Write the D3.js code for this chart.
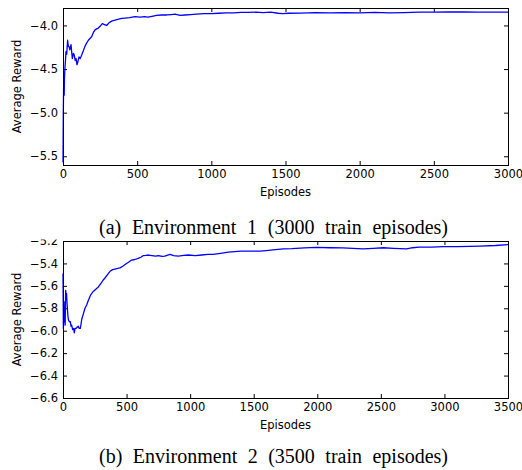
<!DOCTYPE html>
<html>
<head>
<meta charset="utf-8">
<script src="https://cdn.jsdelivr.net/npm/d3@7"></script>
<style>
  body { margin: 0; background: #fff; }
  .axisGraph text { font-family: "DejaVu Sans", sans-serif; font-size: 11.5px; fill: #000; }
  .axisGraph line { stroke: #000; }
  .labelGraph { font-family: "DejaVu Sans", sans-serif; font-size: 11.5px; fill: #000; }
  .caption { font-family: "Liberation Serif", "Times New Roman", serif; font-size: 20px; fill: #000; }
</style>
</head>
<body>
<script>

// Environment 1 : average reward per episode
var env1Episodes = [0, 1, 2, 4, 6, 8, 10, 13, 16, 20, 25, 31, 36, 40, 46, 54, 60, 63, 70, 76, 82, 88, 94, 100,
  108, 116, 126, 137, 148, 160, 171, 182, 193, 205, 216, 227, 238, 250, 265, 280, 294, 310, 328, 350, 370, 396,
  420, 450, 485, 520, 550, 573, 600, 630, 665, 700, 730, 755, 790, 822, 860, 900, 950, 1000, 1050, 1100, 1150,
  1200, 1250, 1300, 1350, 1400, 1450, 1480, 1520, 1600, 1700, 1800, 1900, 2000, 2100, 2200, 2300, 2400, 2500,
  2600, 2700, 2800, 2900, 3000];
var env1Reward = [-5.57, -5.3, -5.0, -4.72, -4.66, -4.8, -4.6, -4.49, -4.42, -4.30, -4.33, -4.17, -4.24, -4.24,
  -4.28, -4.22, -4.33, -4.38, -4.32, -4.34, -4.40, -4.38, -4.45, -4.42, -4.36, -4.38, -4.34, -4.29, -4.24, -4.20,
  -4.17, -4.15, -4.13, -4.08, -4.05, -4.04, -4.03, -4.01, -3.98, -3.99, -4.00, -3.97, -3.95, -3.94, -3.93, -3.92,
  -3.915, -3.91, -3.90, -3.905, -3.90, -3.905, -3.895, -3.885, -3.88, -3.88, -3.875, -3.87, -3.885, -3.88, -3.875,
  -3.87, -3.865, -3.865, -3.86, -3.855, -3.855, -3.85, -3.85, -3.848, -3.852, -3.848, -3.86, -3.865, -3.86, -3.858,
  -3.852, -3.856, -3.852, -3.855, -3.85, -3.856, -3.852, -3.848, -3.848, -3.846, -3.845, -3.848, -3.848, -3.848];

// Environment 2 : average reward per episode
var env2Episodes = [0, 3, 6, 8, 11, 13, 17, 21, 25, 28, 31, 34, 38, 42, 50, 58, 63, 68, 76, 84, 89, 95, 102, 110,
  120, 128, 136, 142, 147, 160, 173, 186, 199, 218, 238, 258, 278, 300, 315, 330, 350, 370, 390, 409, 430, 448,
  470, 488, 515, 540, 565, 592, 612, 632, 652, 671, 700, 730, 750, 780, 800, 842, 870, 907, 950, 986, 1040, 1090,
  1140, 1180, 1240, 1300, 1350, 1400, 1450, 1500, 1550, 1600, 1650, 1733, 1800, 1900, 1995, 2100, 2200, 2280,
  2360, 2440, 2520, 2600, 2703, 2750, 2800, 2900, 2990, 3100, 3200, 3280, 3400, 3500];
var env2Reward = [-5.49, -5.98, -5.80, -5.74, -5.92, -5.86, -5.95, -5.64, -5.70, -5.67, -5.74, -5.79, -5.86, -5.90,
  -5.92, -5.92, -5.96, -5.95, -5.99, -5.98, -6.02, -5.98, -5.98, -5.97, -5.96, -5.98, -5.98, -5.94, -5.90, -5.85,
  -5.80, -5.77, -5.73, -5.68, -5.65, -5.63, -5.61, -5.575, -5.55, -5.53, -5.50, -5.47, -5.455, -5.45, -5.445, -5.44,
  -5.425, -5.41, -5.39, -5.37, -5.365, -5.355, -5.345, -5.33, -5.328, -5.325, -5.33, -5.335, -5.33, -5.338, -5.335,
  -5.32, -5.33, -5.335, -5.328, -5.325, -5.33, -5.325, -5.32, -5.32, -5.31, -5.30, -5.295, -5.29, -5.29, -5.29,
  -5.29, -5.285, -5.28, -5.27, -5.268, -5.262, -5.256, -5.26, -5.262, -5.265, -5.27, -5.265, -5.26, -5.265, -5.27,
  -5.26, -5.255, -5.255, -5.25, -5.25, -5.248, -5.245, -5.24, -5.233];

var env1XTicks = [0, 500, 1000, 1500, 2000, 2500, 3000];
var env1YTicks = [-5.5, -5.0, -4.5, -4.0];
var env2XTicks = [0, 500, 1000, 1500, 2000, 2500, 3000, 3500];
var env2YTicks = [-6.6, -6.4, -6.2, -6.0, -5.8, -5.6, -5.4, -5.2];

var captions = ["(a) Environment 1 (3000 train episodes)", "(b) Environment 2 (3500 train episodes)"];

/************************************************************************************************************/

var root = d3.select("body").append("svg").attr("width", 522).attr("height", 470);

function minusFormat(d){
  return d3.format(".1f")(d).replace("-", "\u2212");
}

function drawPanel(conf){

  var svg = root.append("g").attr("transform", "translate(" + [conf.left, conf.top] + ")");
  var width = conf.width, height = conf.height;

  var x = d3.scaleLinear().domain(conf.xDomain).range([0, width]);
  var y = d3.scaleLinear().domain(conf.yDomain).range([height, 0]);

  svg.append("g").attr("class", "axisGraph").attr("transform", "translate(0," + height + ")")
    .call(d3.axisBottom(x).tickValues(conf.xTicks).tickSizeInner(-4).tickSizeOuter(0).tickPadding(5)
      .tickFormat(d3.format("d")));
  svg.append("g").attr("class", "axisGraph")
    .call(d3.axisTop(x).tickValues(conf.xTicks).tickSizeInner(-4).tickSizeOuter(0).tickFormat(""));
  svg.append("g").attr("class", "axisGraph")
    .call(d3.axisLeft(y).tickValues(conf.yTicks).tickSizeInner(-4).tickSizeOuter(0).tickPadding(5).tickFormat(minusFormat));
  svg.append("g").attr("class", "axisGraph").attr("transform", "translate(" + width + ",0)")
    .call(d3.axisRight(y).tickValues(conf.yTicks).tickSizeInner(-4).tickSizeOuter(0).tickFormat(""));

  svg.selectAll(".axisGraph .domain").remove();

  var points = conf.episodes.map(function(e, i){ return [e, conf.reward[i]]; });

  svg.append("path")
    .datum(points)
    .attr("fill", "none")
    .attr("stroke", "#0000ff")
    .attr("stroke-width", 1.3)
    .attr("stroke-linejoin", "round")
    .attr("d", d3.line().x(function(d){ return x(d[0]); }).y(function(d){ return y(d[1]); }));

  svg.append("rect")
    .attr("x", 0.5).attr("y", 0.5)
    .attr("width", width).attr("height", height)
    .attr("fill", "none").attr("stroke", "#000").attr("stroke-width", 1);

  svg.append("text")
    .attr("class", "labelGraph")
    .attr("text-anchor", "middle")
    .attr("x", width / 2)
    .attr("y", height + 31)
    .text("Episodes");

  svg.append("text")
    .attr("class", "labelGraph")
    .attr("text-anchor", "middle")
    .attr("transform", "translate(" + (21 - conf.left) + "," + (height / 2) + ") rotate(-90)")
    .text("Average Reward");
}

function drawCaption(text, cx, baseline){
  var t = root.append("text")
    .attr("class", "caption")
    .attr("x", cx)
    .attr("y", baseline)
    .attr("text-anchor", "middle")
    .text(text);
  // latex caption spaces are wider than the font's own
  var spaces = text.split(" ").length - 1;
  var natural = t.node().getComputedTextLength();
  t.attr("word-spacing", Math.max(0, (349 - natural) / spaces));
}

drawPanel({left: 63, top: 8, width: 445, height: 157,
  xDomain: [0, 3000], yDomain: [-5.6, -3.8], xTicks: env1XTicks, yTicks: env1YTicks,
  episodes: env1Episodes, reward: env1Reward});

drawPanel({left: 63, top: 241, width: 445, height: 157,
  xDomain: [0, 3500], yDomain: [-6.6, -5.2], xTicks: env2XTicks, yTicks: env2YTicks,
  episodes: env2Episodes, reward: env2Reward});

// caption (a) sits on top of the second panel's upper label
root.append("rect").attr("x", 0).attr("y", 203).attr("width", 522).attr("height", 36.5).attr("fill", "#fff");

drawCaption(captions[0], 273.5, 233.5);
drawCaption(captions[1], 273.5, 463);

</script>
</body>
</html>
